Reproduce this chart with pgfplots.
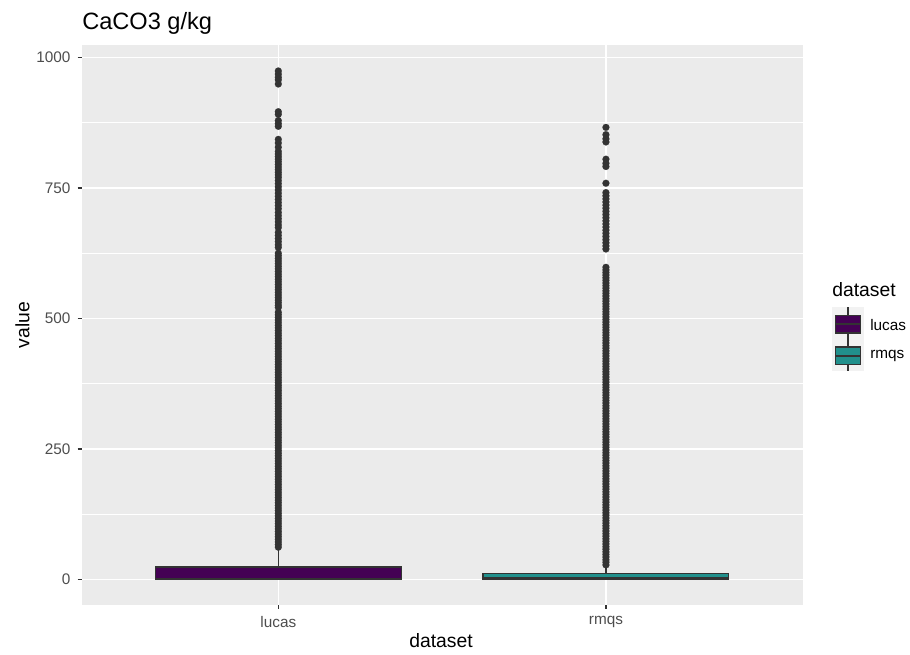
\documentclass[border=0pt]{standalone}
\usepackage{pgfplots}
\pgfplotsset{compat=1.18}
\usepackage{pgfplotstable}
\usepackage{fontspec}
\setmainfont{Liberation Sans}
\definecolor{g20}{HTML}{333333}
\definecolor{g30}{HTML}{4D4D4D}
\definecolor{g92}{HTML}{EBEBEB}
\definecolor{g95}{HTML}{F2F2F2}
\definecolor{lucasc}{HTML}{440154}
\definecolor{rmqsc}{HTML}{21908C}

\pgfplotstableread{
x value
1 974
1 968
1 962
1 957
1 949
1 896
1 891
1 879
1 873
1 868
1 843
1 836
1 828
1 820
1 815
1 810
1 805
1 800
1 795
1 790
1 785
1 780
1 775
1 770
1 764
1 758
1 752
1 746
1 740
1 734
1 728
1 722
1 716
1 710
1 703
1 697
1 691
1 685
1 679
1 674
1 665
1 659
1 653
1 647
1 641
1 636
1 625
1 620
1 615
1 610
1 605
1 600
1 595
1 590
1 585
1 580
1 575
1 570
1 565
1 560
1 555
1 550
1 545
1 540
1 535
1 530
1 525
1 521
1 512
1 507
1 502
1 497
1 492
1 487
1 482
1 477
1 472
1 467
1 462
1 457
1 452
1 447
1 442
1 437
1 432
1 427
1 422
1 417
1 412
1 407
1 402
1 397
1 392
1 387
1 382
1 377
1 372
1 367
1 362
1 357
1 352
1 347
1 342
1 337
1 332
1 327
1 322
1 317
1 312
1 307
1 302
1 297
1 292
1 287
1 282
1 277
1 272
1 267
1 262
1 257
1 252
1 247
1 242
1 237
1 232
1 227
1 222
1 217
1 212
1 207
1 202
1 197
1 192
1 187
1 182
1 177
1 172
1 167
1 162
1 157
1 152
1 147
1 142
1 137
1 132
1 127
1 122
1 117
1 112
1 107
1 102
1 97
1 92
1 87
1 82
1 77
1 72
1 67
1 62
}\lucasout

\pgfplotstableread{
x value
2 866
2 852
2 844
2 838
2 805
2 797
2 791
2 759
2 741
2 735
2 729
2 723
2 717
2 711
2 705
2 699
2 693
2 687
2 681
2 675
2 669
2 663
2 657
2 651
2 645
2 639
2 633
2 598
2 593
2 588
2 583
2 578
2 573
2 568
2 563
2 558
2 553
2 548
2 543
2 538
2 533
2 528
2 523
2 518
2 513
2 508
2 503
2 498
2 493
2 488
2 483
2 478
2 473
2 468
2 463
2 458
2 453
2 448
2 443
2 438
2 433
2 428
2 423
2 418
2 413
2 408
2 403
2 398
2 393
2 388
2 383
2 378
2 373
2 368
2 363
2 358
2 353
2 348
2 343
2 338
2 333
2 328
2 323
2 318
2 313
2 308
2 303
2 298
2 293
2 288
2 283
2 278
2 273
2 268
2 263
2 258
2 253
2 248
2 243
2 238
2 233
2 228
2 223
2 218
2 213
2 208
2 203
2 198
2 193
2 188
2 183
2 178
2 173
2 168
2 163
2 158
2 153
2 148
2 143
2 138
2 133
2 128
2 123
2 118
2 113
2 108
2 103
2 98
2 93
2 88
2 83
2 78
2 73
2 68
2 63
2 58
2 53
2 48
2 43
2 38
2 33
2 28
}\rmqsout

\begin{document}
\begin{tikzpicture}
\useasboundingbox (-61.3pt,-37.5pt) rectangle (621.2pt,453.75pt);
\begin{axis}[
  scale only axis, width=540.6pt, height=420pt,
  xmin=0.4, xmax=2.6, ymin=-48.75, ymax=1023.75,
  axis background/.style={fill=g92},
  axis line style={draw=none},
  xtick={1,2}, xticklabels={lucas,rmqs},
  ytick={0,250,500,750,1000},
  minor ytick={125,375,625,875},
  grid=both,
  major grid style={white, line width=1.1pt},
  minor grid style={white, line width=0.55pt},
  tick align=outside, tick pos=left,
  major tick length=3pt, minor tick length=0pt,
  tick style={g20, line width=1.1pt},
  /pgf/number format/assume math mode=true,
  /pgf/number format/1000 sep={},
  scaled y ticks=false,
  every tick label/.append style={font=\fontsize{11.5}{13}\selectfont, text=g30},
  yticklabel style={anchor=east, inner sep=0pt, xshift=-5.25pt},
  xticklabel style={anchor=north, inner sep=0pt, yshift=-5.25pt},
]
% lucas: whisker, outliers, box, median
\addplot[g20, line width=1pt] coordinates {(1,24) (1,58)};
\addplot[only marks, mark=*, mark size=2.6pt, mark options={fill=g20, draw=g20, line width=0.1pt}] table[x=x, y=value]{\lucasout};
\addplot[draw=g20, fill=lucasc, line width=1pt] coordinates {(0.625,0) (1.375,0) (1.375,24) (0.625,24)} -- cycle;
\addplot[g20, line width=2.2pt] coordinates {(0.625,1) (1.375,1)};
% rmqs
\addplot[g20, line width=1pt] coordinates {(2,11) (2,24)};
\addplot[only marks, mark=*, mark size=2.6pt, mark options={fill=g20, draw=g20, line width=0.1pt}] table[x=x, y=value]{\rmqsout};
\addplot[draw=g20, fill=rmqsc, line width=1pt] coordinates {(1.625,0) (2.375,0) (2.375,11) (1.625,11)} -- cycle;
\addplot[g20, line width=2.2pt] coordinates {(1.625,2) (2.375,2)};
\end{axis}
% titles
\node[anchor=base west, inner sep=0pt, font=\fontsize{17.7}{20}\selectfont] at (0.2pt,431.25pt) {CaCO3 g/kg};
\node[anchor=center, rotate=90, inner sep=0pt, font=\fontsize{14.5}{16}\selectfont] at (-44.4pt,210pt) {value};
\node[anchor=base, inner sep=0pt, font=\fontsize{14.5}{16}\selectfont] at (269.5pt,-32.25pt) {dataset};
% legend
\node[anchor=base west, inner sep=0pt, font=\fontsize{14.5}{16}\selectfont] at (562.7pt,231.2pt) {dataset};
\fill[g95] (562.7pt,175.5pt) rectangle (586.7pt,223.5pt);
\draw[g20, line width=0.8pt] (574.7pt,199.5pt) -- (574.7pt,223.5pt);
\draw[g20, line width=0.8pt, fill=lucasc] (565.0pt,204.0pt) rectangle (584.0pt,217.0pt);
\draw[g20, line width=1.6pt] (565.0pt,210.5pt) -- (584.0pt,210.5pt);
\draw[g20, line width=0.8pt] (574.7pt,175.5pt) -- (574.7pt,199.5pt);
\draw[g20, line width=0.8pt, fill=rmqsc] (565.0pt,180.5pt) rectangle (584.0pt,193.5pt);
\draw[g20, line width=1.6pt] (565.0pt,187.0pt) -- (584.0pt,187.0pt);
\node[anchor=west, inner sep=0pt, font=\fontsize{11.5}{13}\selectfont] at (591.2pt,210.0pt) {lucas};
\node[anchor=west, inner sep=0pt, font=\fontsize{11.5}{13}\selectfont] at (591.2pt,187.0pt) {rmqs};
\end{tikzpicture}
\end{document}
